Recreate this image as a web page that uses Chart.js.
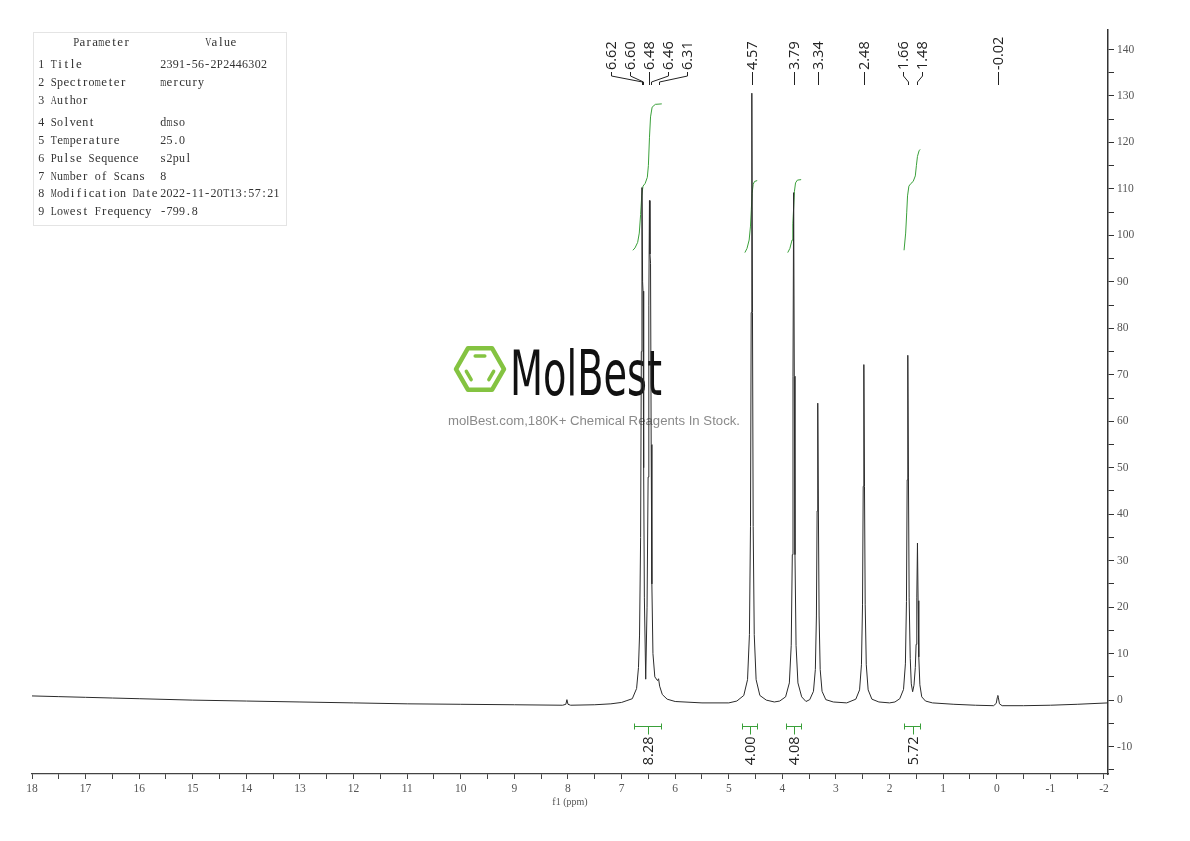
<!DOCTYPE html>
<html>
<head>
<meta charset="utf-8">
<title>1H NMR - 2391-56-2P2446302</title>
<script src="https://cdn.jsdelivr.net/npm/chart.js@4.4.1/dist/chart.umd.min.js"></script>
<style>
    html, body { margin: 0; padding: 0; background: #fff; }
    canvas { display: block; }
</style>
</head>
<body>
<canvas id="nmrChart" width="1190" height="841"></canvas>
<script>
// Spectrum trace: [ppm, intensity]
const spectrumPoints = [
    [18.0, 0.9], [17.5, 0.75], [17.0, 0.6], [16.5, 0.45], [16.0, 0.3], [15.0, 0.0], [14.0, -0.2],
    [13.0, -0.4], [12.0, -0.6], [11.0, -0.8], [10.0, -0.9], [9.0, -1.0], [8.1, -1.1], [8.04, -0.9],
    [8.02, 0.1], [8.0, -0.9], [7.95, -1.1], [7.5, -1.0], [7.2, -0.8], [7.0, -0.5], [6.9, -0.1],
    [6.80, 0.3], [6.72, 2.5], [6.685, 7], [6.665, 14], [6.645, 35], [6.632, 75], [6.62, 110.3],
    [6.608, 90], [6.60, 88], [6.588, 50], [6.575, 22], [6.55, 4.5], [6.525, 20], [6.505, 48],
    [6.492, 85], [6.48, 107.5], [6.47, 96], [6.46, 94], [6.448, 55], [6.435, 25], [6.415, 10],
    [6.38, 5], [6.33, 4.2], [6.31, 4.6], [6.29, 3], [6.24, 1.2], [6.15, 0.2], [6.0, -0.3],
    [5.5, -0.6], [5.0, -0.6], [4.85, -0.2],
    [4.72, 1.0], [4.65, 4.4], [4.615, 14.1], [4.595, 37.4], [4.582, 83.4], [4.57, 130.6],
    [4.558, 83.4], [4.545, 37.4], [4.525, 14.1], [4.49, 4.4], [4.42, 1.0], [4.3, 0.0],
    [4.15, -0.4], [4.05, -0.2],
    [3.94, 0.7], [3.87, 3.7], [3.835, 11.8], [3.815, 31.3], [3.802, 69.7], [3.79, 109.2],
    [3.778, 69.7], [3.765, 31.3], [3.745, 11.8], [3.71, 3.7], [3.64, 0.7], [3.56, -0.3],
    [3.49, 0.1], [3.42, 1.9], [3.385, 6.6], [3.365, 18.1], [3.352, 40.7], [3.34, 63.9],
    [3.328, 40.7], [3.315, 18.1], [3.295, 6.6], [3.26, 1.9], [3.19, 0.1], [3.05, -0.4], [2.8, -0.6],
    [2.63, 0.2], [2.56, 2.2], [2.525, 7.6], [2.505, 20.5], [2.492, 46.0], [2.48, 72.2],
    [2.468, 46.0], [2.455, 20.5], [2.435, 7.6], [2.40, 2.2], [2.33, 0.2], [2.2, -0.4],
    [2.0, -0.6], [1.9, -0.4],
    [1.81, 0.3], [1.74, 2.3], [1.705, 7.8], [1.685, 21.2], [1.672, 47.4], [1.66, 74.2],
    [1.648, 48], [1.635, 22], [1.615, 9], [1.595, 3.5], [1.57, 1.8], [1.545, 3.2], [1.52, 7],
    [1.505, 12], [1.492, 22], [1.48, 33.8], [1.468, 21.4], [1.455, 9.3], [1.435, 3.3], [1.40, 0.7],
    [1.33, -0.2], [1.2, -0.6], [0.8, -0.9], [0.4, -1.1], [0.06, -1.2], [0.01, -0.7], [-0.01, 0.6],
    [-0.02, 1.0], [-0.03, 0.5], [-0.05, -0.8], [-0.1, -1.2], [-0.5, -1.2], [-1.0, -1.1],
    [-1.5, -0.9], [-2.075, -0.6]
];

// Integral curves (green): [ppm, level]
const integralA = [
    [6.79, 96.8], [6.75, 97.3], [6.70, 98.5], [6.67, 100.5], [6.645, 104.5], [6.625, 108.5],
    [6.60, 110.6], [6.56, 111.2], [6.52, 112.5], [6.50, 115], [6.48, 121], [6.46, 125.5],
    [6.43, 127.6], [6.37, 128.2], [6.25, 128.3]
];
const integralB = [
    [4.70, 96.3], [4.66, 97.2], [4.62, 99], [4.595, 102], [4.58, 105.5], [4.565, 109],
    [4.545, 111], [4.52, 111.6], [4.47, 111.8]
];
const integralC = [
    [3.90, 96.3], [3.86, 97.2], [3.82, 99], [3.805, 102.5], [3.79, 106], [3.775, 109.5],
    [3.755, 111.3], [3.72, 111.9], [3.65, 112.0]
];
const integralD = [
    [1.73, 96.8], [1.70, 100.5], [1.68, 105], [1.665, 108.5], [1.64, 110.6], [1.60, 111.2],
    [1.56, 111.6], [1.52, 112.8], [1.50, 115], [1.48, 117], [1.45, 118.2], [1.43, 118.5]
];

// Integration ranges and their values
const integralFrom = [6.77, 4.75, 3.93, 1.74];
const integralTo = [6.27, 4.47, 3.65, 1.44];
const integralValues = ['8.28', '4.00', '4.08', '5.72'];

// Peak picking labels
const peakLabels = [6.62, 6.60, 6.48, 6.46, 6.31, 4.57, 3.79, 3.34, 2.48, 1.66, 1.48, -0.02];

// Axis ticks
const xTickValues = [18, 17.5, 17, 16.5, 16, 15.5, 15, 14.5, 14, 13.5, 13, 12.5, 12, 11.5, 11,
    10.5, 10, 9.5, 9, 8.5, 8, 7.5, 7, 6.5, 6, 5.5, 5, 4.5, 4, 3.5, 3, 2.5, 2, 1.5, 1, 0.5, 0,
    -0.5, -1, -1.5, -2];
const yTickValues = [140, 135, 130, 125, 120, 115, 110, 105, 100, 95, 90, 85, 80, 75, 70, 65,
    60, 55, 50, 45, 40, 35, 30, 25, 20, 15, 10, 5, 0, -5, -10, -15];

// Parameter table
const paramNames = ['Title', 'Spectrometer', 'Author', 'Solvent', 'Temperature',
    'Pulse Sequence', 'Number of Scans', 'Modification Date', 'Lowest Frequency'];
const paramValues = ['2391-56-2P2446302', 'mercury', '', 'dmso', '25.0',
    's2pul', '8', '2022-11-20T13:57:21', '-799.8'];

// Layout constants for the hand drawn parts
const paramRowY = [65, 83, 101, 123, 141, 159, 177, 194, 212];
const SERIF = '"Liberation Serif", "DejaVu Serif", serif';
const SANS = '"Open Sans", "Noto Sans", sans-serif';
const GREEN = '#3aa03a';

// SimSun-like fixed pitch text
function drawMono(ctx, text, x, y, pitch) {
    for (let k = 0; k < text.length; k++) {
        const ch = text[k];
        const w = ctx.measureText(ch).width;
        ctx.save();
        ctx.translate(x + (k + 0.5) * pitch, y);
        if (w > pitch - 0.3) ctx.scale((pitch - 0.3) / w, 1);
        ctx.fillText(ch, 0, 0);
        ctx.restore();
    }
}

function drawParamTable(ctx) {
    ctx.save();
    ctx.strokeStyle = '#e4e4e4';
    ctx.lineWidth = 1;
    ctx.strokeRect(33.5, 32.5, 253, 193);
    ctx.fillStyle = '#333';
    ctx.font = '13px ' + SERIF;
    ctx.textAlign = 'center';
    ctx.textBaseline = 'middle';
    drawMono(ctx, 'Parameter', 73, 43, 6.3);
    drawMono(ctx, 'Value', 205, 43, 6.3);
    paramNames.forEach((name, i) => {
        drawMono(ctx, (i + 1) + ' ' + name, 38, paramRowY[i], 6.3);
        drawMono(ctx, paramValues[i], 160, paramRowY[i], 6.3);
    });
    ctx.restore();
}

function drawWatermark(ctx) {
    ctx.save();
    const cx = 480, cy = 369, r = 24;
    ctx.strokeStyle = '#84c341';
    ctx.lineWidth = 4.5;
    ctx.lineJoin = 'round';
    ctx.beginPath();
    for (let i = 0; i < 6; i++) {
        const a = i * Math.PI / 3;
        const px = cx + r * Math.cos(a), py = cy + r * Math.sin(a);
        if (i === 0) ctx.moveTo(px, py); else ctx.lineTo(px, py);
    }
    ctx.closePath();
    ctx.stroke();

    // inner double bonds
    const ri = 15;
    ctx.lineWidth = 3.5;
    ctx.lineCap = 'round';
    [[4, 5], [2, 3], [0, 1]].forEach(([a, b]) => {
        const x1 = cx + ri * Math.cos(a * Math.PI / 3), y1 = cy + ri * Math.sin(a * Math.PI / 3);
        const x2 = cx + ri * Math.cos(b * Math.PI / 3), y2 = cy + ri * Math.sin(b * Math.PI / 3);
        ctx.beginPath();
        ctx.moveTo(x1 + (x2 - x1) * 0.18, y1 + (y2 - y1) * 0.18);
        ctx.lineTo(x1 + (x2 - x1) * 0.82, y1 + (y2 - y1) * 0.82);
        ctx.stroke();
    });

    // brand name
    ctx.fillStyle = '#111';
    ctx.font = '62px "Liberation Sans Narrow", "DejaVu Sans Condensed", sans-serif';
    const w = ctx.measureText('MolBest').width;
    ctx.save();
    ctx.translate(510, 395);
    ctx.scale(152 / w, 1);
    ctx.textBaseline = 'alphabetic';
    ctx.fillText('MolBest', 0, 0);
    ctx.restore();

    // tagline
    ctx.fillStyle = '#8a8a8a';
    ctx.font = '13px "Liberation Sans", Arial, sans-serif';
    const tag = 'molBest.com,180K+ Chemical Reagents In Stock.';
    const tw = ctx.measureText(tag).width;
    ctx.translate(448, 421);
    ctx.scale(292 / tw, 1);
    ctx.textBaseline = 'middle';
    ctx.fillText(tag, 0, 0);
    ctx.restore();
}

function drawPeakLabels(chart) {
    const ctx = chart.ctx;
    const xs = chart.scales.x;
    const px = peakLabels.map(v => xs.getPixelForValue(v));
    const lx = px.slice();
    const threshold = 16, spread = 19;

    // fan out labels of peaks that sit too close together
    let start = 0;
    for (let i = 1; i <= px.length; i++) {
        if (i === px.length || px[i] - px[i - 1] >= threshold) {
            const n = i - start;
            if (n > 1) {
                const mean = px.slice(start, i).reduce((a, b) => a + b, 0) / n;
                for (let k = 0; k < n; k++) lx[start + k] = mean + spread * (k - (n - 1) / 2);
            }
            start = i;
        }
    }

    ctx.save();
    ctx.strokeStyle = '#222';
    ctx.fillStyle = '#222';
    ctx.lineWidth = 1;
    ctx.font = '14.5px ' + SANS;
    peakLabels.forEach((v, i) => {
        const a = Math.round(lx[i]) + 0.5, b = Math.round(px[i]) + 0.5;
        ctx.beginPath();
        ctx.moveTo(a, 72);
        ctx.lineTo(a, 76);
        ctx.lineTo(b, 82);
        ctx.lineTo(b, 85);
        ctx.stroke();
        ctx.save();
        ctx.translate(a, 70);
        ctx.rotate(-Math.PI / 2);
        ctx.textAlign = 'left';
        ctx.textBaseline = 'middle';
        ctx.fillText(v.toFixed(2), 0, 0);
        ctx.restore();
    });
    ctx.restore();
}

function drawIntegralBars(chart) {
    const ctx = chart.ctx;
    const xs = chart.scales.x, ys = chart.scales.y;
    const y = Math.round(ys.getPixelForValue(-5.6)) + 0.5;
    ctx.save();
    ctx.strokeStyle = GREEN;
    ctx.lineWidth = 1;
    ctx.font = '14.5px ' + SANS;
    ctx.fillStyle = '#222';
    integralValues.forEach((label, i) => {
        const x1 = Math.round(xs.getPixelForValue(integralFrom[i])) + 0.5;
        const x2 = Math.round(xs.getPixelForValue(integralTo[i])) + 0.5;
        const xc = Math.round((x1 + x2) / 2) + 0.5;
        ctx.beginPath();
        ctx.moveTo(x1, y); ctx.lineTo(x2, y);
        ctx.moveTo(x1, y - 3); ctx.lineTo(x1, y + 3);
        ctx.moveTo(x2, y - 3); ctx.lineTo(x2, y + 3);
        ctx.moveTo(xc, y); ctx.lineTo(xc, y + 8);
        ctx.stroke();
        ctx.save();
        ctx.translate(xc, y + 10);
        ctx.rotate(-Math.PI / 2);
        ctx.textAlign = 'right';
        ctx.textBaseline = 'middle';
        ctx.fillText(label, 0, 0);
        ctx.restore();
    });
    ctx.restore();
}

const nmrDecor = {
    id: 'nmrDecor',
    beforeDatasetsDraw(chart) {
        drawWatermark(chart.ctx);
    },
    afterDraw(chart) {
        drawParamTable(chart.ctx);
        drawPeakLabels(chart);
        drawIntegralBars(chart);
    }
};

const toXY = pts => pts.map(p => ({ x: p[0], y: p[1] }));
const integralSet = pts => ({
    data: toXY(pts),
    borderColor: GREEN,
    borderWidth: 1,
    pointRadius: 0,
    showLine: true
});

const isWhole = v => Math.abs(v - Math.round(v)) < 1e-6;

new Chart(document.getElementById('nmrChart'), {
    type: 'scatter',
    data: {
        datasets: [
            {
                data: toXY(spectrumPoints),
                borderColor: '#2b2b2b',
                borderWidth: 1,
                pointRadius: 0,
                showLine: true
            },
            integralSet(integralA),
            integralSet(integralB),
            integralSet(integralC),
            integralSet(integralD)
        ]
    },
    options: {
        responsive: false,
        animation: false,
        events: [],
        layout: { padding: { left: 32, top: 30, right: 0, bottom: 0 } },
        plugins: {
            legend: { display: false },
            tooltip: { enabled: false }
        },
        scales: {
            x: {
                type: 'linear',
                reverse: true,
                min: -2.075,
                max: 18,
                afterBuildTicks: axis => { axis.ticks = xTickValues.map(v => ({ value: v })); },
                afterFit: axis => { axis.height = 67; },
                ticks: {
                    autoSkip: false,
                    maxRotation: 0,
                    padding: 3,
                    color: '#555',
                    font: { family: SERIF, size: 11.5 },
                    callback: v => isWhole(v) ? String(Math.round(v)) : ''
                },
                grid: { drawOnChartArea: false, drawTicks: true, tickLength: 5, color: '#444' },
                border: { display: true, color: '#444', width: 1.2 },
                title: {
                    display: true,
                    text: 'f1 (ppm)',
                    color: '#555',
                    font: { family: SERIF, size: 10 },
                    padding: { top: 0, bottom: 33 }
                }
            },
            y: {
                type: 'linear',
                position: 'right',
                min: -15.9,
                max: 144.2,
                afterBuildTicks: axis => { axis.ticks = yTickValues.map(v => ({ value: v })); },
                afterFit: axis => { axis.width = 82; },
                ticks: {
                    autoSkip: false,
                    padding: 3,
                    color: '#555',
                    font: { family: SERIF, size: 11.5 },
                    callback: v => (Math.round(v) % 10 === 0) ? String(Math.round(v)) : ''
                },
                grid: { drawOnChartArea: false, drawTicks: true, tickLength: 6, color: '#333' },
                border: { display: true, color: '#333', width: 1.5 }
            }
        }
    },
    plugins: [nmrDecor]
});
</script>
</body>
</html>
